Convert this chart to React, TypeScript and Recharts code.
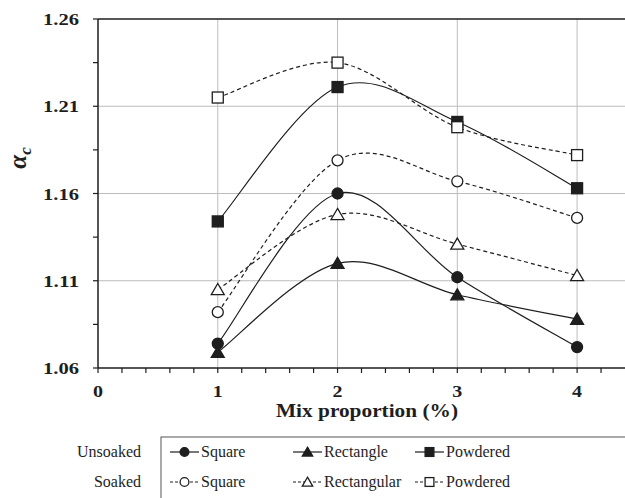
import React from 'react'
import { LineChart, Line, XAxis, YAxis, CartesianGrid, ReferenceLine } from 'recharts'

const MIX = [1, 2, 3, 4]
const UNSOAKED_SQUARE = [1.074, 1.16, 1.112, 1.072]
const UNSOAKED_RECTANGLE = [1.069, 1.12, 1.102, 1.088]
const UNSOAKED_POWDERED = [1.144, 1.221, 1.201, 1.163]
const SOAKED_SQUARE = [1.092, 1.179, 1.167, 1.146]
const SOAKED_RECTANGULAR = [1.105, 1.148, 1.131, 1.113]
const SOAKED_POWDERED = [1.215, 1.235, 1.198, 1.182]

const X_TICKS = [0, 0.2, 0.4, 0.6, 0.8, 1, 1.2, 1.4, 1.6, 1.8, 2, 2.2, 2.4, 2.6, 2.8, 3, 3.2, 3.4, 3.6, 3.8, 4, 4.2]
const X_LABELS = [0, 1, 2, 3, 4]
const Y_TICKS = [1.06, 1.085, 1.11, 1.135, 1.16, 1.185, 1.21, 1.235, 1.26]
const Y_LABELS = ['1.06', '1.11', '1.16', '1.21', '1.26']
const GRID_X = [1, 2, 3, 4]
const GRID_Y = [1.11, 1.16, 1.21]

const data = MIX.map((x, i) => ({
  x,
  usq: UNSOAKED_SQUARE[i],
  urect: UNSOAKED_RECTANGLE[i],
  upow: UNSOAKED_POWDERED[i],
  ssq: SOAKED_SQUARE[i],
  srect: SOAKED_RECTANGULAR[i],
  spow: SOAKED_POWDERED[i],
}))

const serif = { fontFamily: "'Liberation Serif', serif" }
const INK = '#1e1e1e'

// Excel-like smoothed line (Catmull-Rom through the points)
function smoothCurve(context: any) {
  let pts: number[][] = []
  return {
    areaStart() {},
    areaEnd() {},
    lineStart() {
      pts = []
    },
    lineEnd() {
      const n = pts.length
      if (!n) return
      context.moveTo(pts[0][0], pts[0][1])
      for (let i = 0; i < n - 1; i++) {
        const p0 = pts[Math.max(i - 1, 0)]
        const p1 = pts[i]
        const p2 = pts[i + 1]
        const p3 = pts[Math.min(i + 2, n - 1)]
        const t = 1 / 6
        context.bezierCurveTo(
          p1[0] + (p2[0] - p0[0]) * t,
          p1[1] + (p2[1] - p0[1]) * t,
          p2[0] - (p3[0] - p1[0]) * t,
          p2[1] - (p3[1] - p1[1]) * t,
          p2[0],
          p2[1]
        )
      }
    },
    point(x: number, y: number) {
      pts.push([x, y])
    },
  }
}

function Marker({ kind, filled, cx, cy, s = 1 }: { kind: string; filled: boolean; cx: number; cy: number; s?: number }) {
  const fill = filled ? INK : '#fff'
  const sw = 1.3
  if (kind === 'circle') return <circle cx={cx} cy={cy} r={5.5 * s} fill={fill} stroke={INK} strokeWidth={sw} />
  if (kind === 'triangle') {
    const h = 6 * s
    const w = 6.5 * s
    return <polygon points={`${cx},${cy - h} ${cx + w},${cy + h * 0.85} ${cx - w},${cy + h * 0.85}`} fill={fill} stroke={INK} strokeWidth={sw} />
  }
  const a = 5.5 * s
  return <rect x={cx - a} y={cy - a} width={a * 2} height={a * 2} fill={fill} stroke={INK} strokeWidth={sw} />
}

const dotFor = (kind: string, filled: boolean) => (props: any) => (
  <Marker key={`${kind}-${filled}-${props.index}`} kind={kind} filled={filled} cx={props.cx} cy={props.cy} />
)

function XTick(props: any) {
  const v = props.payload.value
  if (!X_LABELS.includes(Math.round(v * 10) / 10)) return null
  return (
    <text x={props.x} y={props.y + 22} textAnchor="middle" style={serif} fontWeight="bold" fontSize={17} fill={INK} textLength={10} lengthAdjust="spacingAndGlyphs">
      {v}
    </text>
  )
}

function YTick(props: any) {
  const label = Number(props.payload.value).toFixed(2)
  if (!Y_LABELS.includes(label)) return null
  return (
    <text x={props.x - 12} y={props.y + 6} textAnchor="end" style={serif} fontWeight="bold" fontSize={17} fill={INK} textLength={36} lengthAdjust="spacingAndGlyphs">
      {label}
    </text>
  )
}

const series = [
  { key: 'usq', kind: 'circle', filled: true, dashed: false },
  { key: 'urect', kind: 'triangle', filled: true, dashed: false },
  { key: 'upow', kind: 'square', filled: true, dashed: false },
  { key: 'ssq', kind: 'circle', filled: false, dashed: true },
  { key: 'srect', kind: 'triangle', filled: false, dashed: true },
  { key: 'spow', kind: 'square', filled: false, dashed: true },
]

const legendRows = [
  { label: 'Unsoaked', y: 452, dashed: false, filled: true, names: ['Square', 'Rectangle', 'Powdered'] },
  { label: 'Soaked', y: 482, dashed: true, filled: false, names: ['Square', 'Rectangular', 'Powdered'] },
]
const legendCols = [
  { x: 170, kind: 'circle' },
  { x: 293, kind: 'triangle' },
  { x: 415, kind: 'square' },
]

export default function App() {
  return (
    <div style={{ position: 'absolute', left: 0, top: 0, width: 625, height: 498, background: '#fff', overflow: 'hidden' }}>
      <LineChart width={625} height={498} data={data} margin={{ top: 19, right: 0, left: 0, bottom: 100 }}>
        <CartesianGrid horizontal vertical horizontalValues={GRID_Y} verticalValues={GRID_X} stroke="#bdbdbd" strokeWidth={1} />
        <XAxis
          type="number"
          dataKey="x"
          domain={[0, 4.4]}
          ticks={X_TICKS}
          interval={0}
          height={30}
          tickSize={5}
          tickLine={{ stroke: INK, strokeWidth: 1.2 }}
          axisLine={{ stroke: INK, strokeWidth: 1.5 }}
          tick={<XTick />}
          allowDataOverflow
        />
        <YAxis
          type="number"
          domain={[1.06, 1.26]}
          ticks={Y_TICKS}
          interval={0}
          width={98}
          tickSize={5}
          tickLine={{ stroke: INK, strokeWidth: 1.2 }}
          axisLine={{ stroke: INK, strokeWidth: 1.5 }}
          tick={<YTick />}
          allowDataOverflow
        />
        <ReferenceLine y={1.26} stroke={INK} strokeWidth={1.5} />
        {series.map((s) => (
          <Line
            key={s.key}
            dataKey={s.key}
            type={smoothCurve as any}
            stroke={INK}
            strokeWidth={1.2}
            strokeDasharray={s.dashed ? '4 3' : undefined}
            dot={dotFor(s.kind, s.filled)}
            activeDot={false}
            isAnimationActive={false}
          />
        ))}
      </LineChart>
      <svg width={625} height={498} style={{ position: 'absolute', left: 0, top: 0, pointerEvents: 'none' }}>
        <text transform="translate(26,158) rotate(-90)" textAnchor="middle" style={serif} fontStyle="italic" fontWeight="bold" fontSize={25} fill={INK}>
          α<tspan fontSize={17} dy={5}>c</tspan>
        </text>
        <text x={367} y={417} textAnchor="middle" style={serif} fontWeight="bold" fontSize={18} fill={INK} textLength={182} lengthAdjust="spacingAndGlyphs">
          Mix proportion (%)
        </text>
        <rect x={161} y={437} width={480} height={80} fill="none" stroke="#555" strokeWidth={1} />
        {legendRows.map((row) => (
          <g key={row.label}>
            <text x={141} y={row.y + 5} textAnchor="end" style={serif} fontSize={16} fill={INK}>
              {row.label}
            </text>
            {legendCols.map((col, i) => (
              <g key={col.x}>
                <line x1={col.x} x2={col.x + 29} y1={row.y} y2={row.y} stroke={INK} strokeWidth={1.2} strokeDasharray={row.dashed ? '3 2' : undefined} />
                <Marker kind={col.kind} filled={row.filled} cx={col.x + 14.5} cy={row.y} s={0.8} />
                <text x={col.x + 31} y={row.y + 5} style={serif} fontSize={16} fill={INK}>
                  {row.names[i]}
                </text>
              </g>
            ))}
          </g>
        ))}
      </svg>
    </div>
  )
}
